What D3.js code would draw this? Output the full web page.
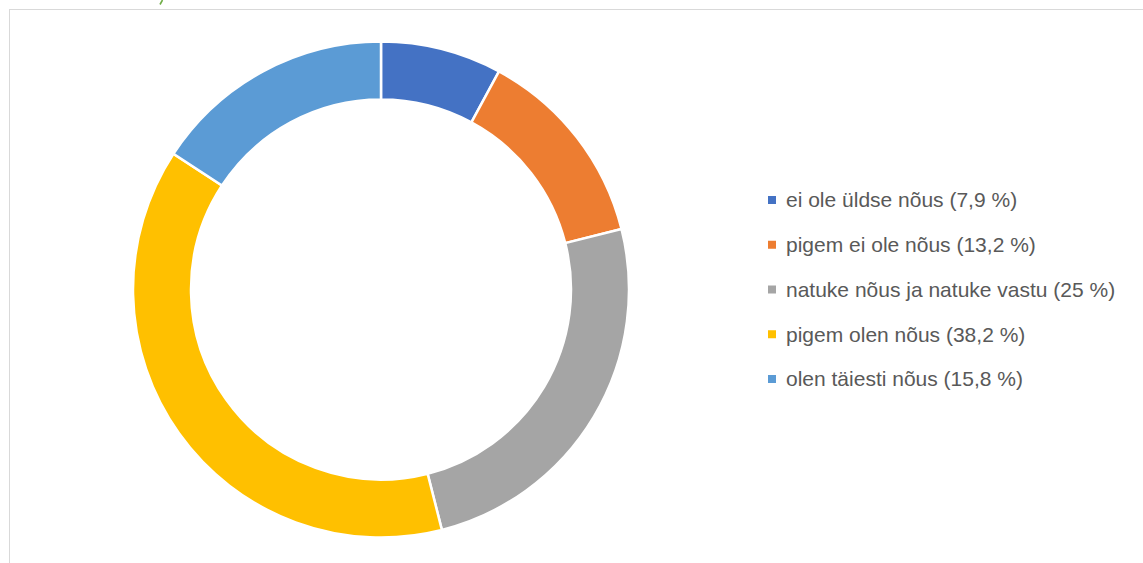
<!DOCTYPE html>
<html>
<head>
<meta charset="utf-8">
<script src="https://cdn.jsdelivr.net/npm/d3@7"></script>
<style>
  body { margin: 0; background: #fff; }
  svg { display: block; }
</style>
</head>
<body>
<div id="chart"></div>
<script>
var labels = ["ei ole üldse nõus", "pigem ei ole nõus", "natuke nõus ja natuke vastu", "pigem olen nõus", "olen täiesti nõus"];
var values = [7.9, 13.2, 25, 38.2, 15.8];
var valueLabels = ["7,9 %", "13,2 %", "25 %", "38,2 %", "15,8 %"];
var colors = ["#4472C4", "#ED7D31", "#A5A5A5", "#FFC000", "#5B9BD5"];

var width = 1143, height = 563;
var cx = 381, cy = 289.5;
var outerR = 248, innerR = 190;

var svg = d3.select("#chart").append("svg")
  .attr("width", width)
  .attr("height", height);

// chart area frame (runs off the right and bottom)
svg.append("rect")
  .attr("x", 9.5).attr("y", 9.5)
  .attr("width", 1200).attr("height", 600)
  .attr("fill", "none")
  .attr("stroke", "#d9d9d9");

// tail of a green glyph cut off at the top edge
svg.append("path")
  .attr("d", "M162.5,0 L160,4.5")
  .attr("stroke", "#70AD47")
  .attr("stroke-width", 1.6)
  .attr("fill", "none");

var arc = d3.arc()
  .outerRadius(outerR)
  .innerRadius(innerR);

var pie = d3.pie()
  .sort(null)
  .value(function (d) { return d; });

var g = svg.append("g")
  .attr("transform", "translate(" + cx + "," + cy + ")");

g.selectAll("path")
  .data(pie(values))
  .enter().append("path")
  .attr("d", arc)
  .attr("fill", function (d, i) { return colors[i]; })
  .attr("stroke", "#fff")
  .attr("stroke-width", 2.5);

var y = d3.scalePoint()
  .domain(d3.range(labels.length))
  .range([200, 379]);

var legend = svg.append("g");

var item = legend.selectAll("g")
  .data(labels)
  .enter().append("g")
  .attr("transform", function (d, i) { return "translate(768," + y(i) + ")"; });

item.append("rect")
  .attr("x", 0).attr("y", -4)
  .attr("width", 8).attr("height", 8)
  .attr("fill", function (d, i) { return colors[i]; });

var texts = item.append("text")
  .attr("x", 18)
  .attr("dy", "0.35em")
  .attr("fill", "#595959")
  .style("font-family", "Liberation Sans, Arial, sans-serif")
  .style("font-size", "18px")
  .text(function (d, i) { return d + " (" + valueLabels[i] + ")"; });

// Calibri in the original is narrow; size the fallback so the longest row ends near x=1124
var longest = d3.max(texts.nodes(), function (n) { return n.getComputedTextLength(); });
var fs = Math.min(21, 18 * 338 / longest);
texts.style("font-size", fs + "px");
</script>
</body>
</html>
